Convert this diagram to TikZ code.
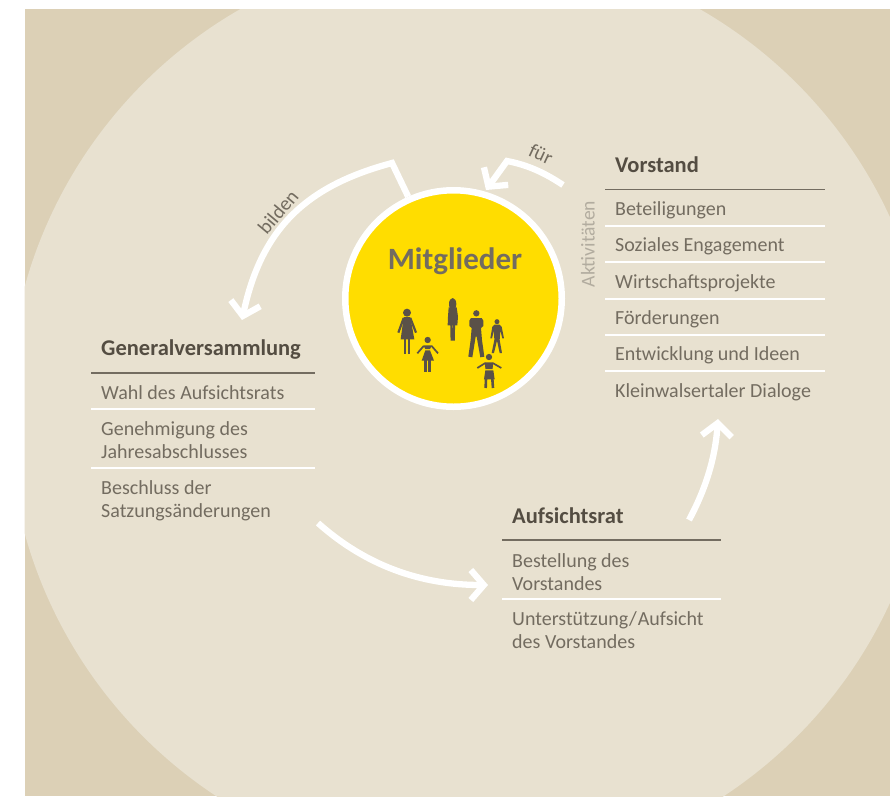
\documentclass[tikz,border=0pt]{standalone}
\usepackage{fontspec}
\setmainfont{Carlito}
\usetikzlibrary{arrows.meta}
\definecolor{tan}{HTML}{DCD0B6}
\definecolor{inner}{HTML}{E8E1D0}
\definecolor{gold}{HTML}{FFDD00}
\definecolor{dark}{HTML}{544D42}
\definecolor{body}{HTML}{736C60}
\definecolor{pale}{HTML}{B2AC9F}
\definecolor{person}{HTML}{5A5148}
\tikzset{
  title/.style={anchor=base west,inner sep=0pt,text=dark,font=\fontsize{22.5}{25}\selectfont\bfseries},
  item/.style={anchor=base west,inner sep=0pt,text=body,align=left,font=\fontsize{20}{23}\selectfont},
  rulehead/.style={draw=body,line width=1.2pt},
  rulewhite/.style={draw=white,line width=2pt},
  flow/.style={draw=white,line width=6.3pt,miter limit=10,-{Straight Barb[length=13pt,width=30pt,line width=6.3pt,sharp]}},
  note/.style={inner sep=0pt,text=body,font=\fontsize{20}{23}\selectfont},
  fig/.style={fill=person,draw=none},
  limb/.style={draw=person,line cap=butt}
}
\begin{document}
\begin{tikzpicture}[x=1pt,y=-1pt]
\useasboundingbox (0,0) rectangle (890,796);
\begin{scope}
  \clip (24.5,9) rectangle (890,796);
  \fill[tan] (24.5,9) rectangle (890,796);
  \fill[inner] (470,410) circle[radius=462pt];
\end{scope}

% centre
\node[circle,fill=gold,draw=white,line width=6.5pt,minimum size=216.5pt,inner sep=0pt] (m) at (453.5,298.5) {};
\node[inner sep=0pt,text=body,font=\fontsize{31}{35}\selectfont\bfseries] (mt) at (455,261) {Mitglieder};

% people
\begin{scope}[shift={(380,290)},x=0.3333pt,y=-0.3333pt]
  % woman left
  \fill[fig] (81,68) circle[radius=12];
  \fill[fig] (71,81)--(91,81)--(103,148)--(62,148)--cycle;
  \draw[limb,line width=2.2pt] (71,84)--(55,128) (91,84)--(108,128);
  \draw[limb,line width=2.8pt] (75,146)--(75,191) (87,146)--(87,191);
  % girl
  \fill[fig] (143,150) circle[radius=9.5];
  \fill[fig] (130,166)--(156,166)--(150,177)--(136,177)--cycle;
  \fill[fig] (136,181)--(150,181)--(162,212)--(125,212)--cycle;
  \draw[limb,line width=1.7pt] (131,168)--(112,190) (155,168)--(174,190);
  \draw[limb,line width=2.6pt] (137,210)--(137,245) (149,210)--(149,245);
  % standing woman
  \fill[fig] (218,42) ellipse[x radius=11,y radius=18];
  \fill[fig] (206,52)--(230,52)--(234,80)--(232,106)--(203,106)--(204,80)--cycle;
  \draw[limb,line width=2.2pt] (214,104)--(215,152) (222,104)--(221,152);
  % man
  \fill[fig] (289,70) circle[radius=9.5];
  \fill[fig] (273,84)--(305,84)--(310,92)--(310,108)--(303,114)--(306,150)--(313,200)--(301,202)--(290,140)--(287,140)--(277,202)--(265,200)--(272,150)--(275,114)--(268,108)--(268,92)--cycle;
  % boy
  \fill[fig] (351,95) circle[radius=7.5];
  \fill[fig] (343,104)--(359,104)--(365,110)--(372,145)--(367,145)--(361,122)--(359,150)--(366,189)--(359,189)--(351,152)--(342,189)--(335,189)--(343,150)--(342,122)--(336,145)--(331,145)--(337,110)--cycle;
  % child front
  \fill[fig] (327,201) circle[radius=9.5];
  \fill[fig] (315,217)--(339,217)--(338,237)--(316,237)--cycle;
  \fill[fig] (316,241)--(340,241)--(344,268)--(312,268)--cycle;
  \draw[limb,line width=1.7pt] (316,219)--(292,234) (338,219)--(364,234);
  \draw[limb,line width=2.6pt] (318,266)--(317,294) (337,266)--(339,294);
\end{scope}

% Vorstand
\node[title] (vt) at (615,172) {Vorstand};
\draw[rulehead] (605,189.5) -- (825,189.5);
\node[item] (v1) at (615,215) {Beteiligungen};
\node[item] (v2) at (615,251.5) {Soziales Engagement};
\node[item] (v3) at (615,288) {Wirtschaftsprojekte};
\node[item] (v4) at (615,324) {Förderungen};
\node[item] (v5) at (615,360.5) {Entwicklung und Ideen};
\node[item] (v6) at (615,397) {Kleinwalsertaler Dialoge};
\foreach \yy in {226,262,298.5,335,371} \draw[rulewhite] (605,\yy) -- (825,\yy);
\node[inner sep=0pt,text=pale,rotate=90,font=\fontsize{19.6}{23}\selectfont] (akt) at (588,244) {Aktivitäten};

% Generalversammlung
\node[title] (gt) at (101,355) {Generalversammlung};
\draw[rulehead] (91,373) -- (315,373);
\node[item] (g1) at (101,399) {Wahl des Aufsichtsrats};
\draw[rulewhite] (91,409) -- (315,409);
\node[item] (g2) at (101,458) {Genehmigung des\\Jahresabschlusses};
\draw[rulewhite] (91,468) -- (315,468);
\node[item] (g3) at (101,517) {Beschluss der\\Satzungsänderungen};

% Aufsichtsrat
\node[title] (at) at (512,523) {Aufsichtsrat};
\draw[rulehead] (502,540) -- (721,540);
\node[item] (a1) at (512,590) {Bestellung des\\Vorstandes};
\draw[rulewhite] (502,599) -- (721,599);
\node[item] (a2) at (512,648) {Unterstützung{\kern1pt}/{\kern1pt}Aufsicht\\des Vorstandes};

% connectors
\coordinate (b0) at (392,163);
\coordinate (b1) at (242,320);
\draw[flow] (m.114) -- (b0) .. controls (310,185) and (262,225) .. (b1);
\coordinate (f0) at (563,185);
\coordinate (f1) at (507,161);
\coordinate (f2) at (486,190);
\draw[flow] (f0) .. controls (545,173) and (528,165) .. (f1) -- (f2);
\coordinate (g0) at (318,523);
\coordinate (g9) at (488,585);
\draw[flow] (g0) .. controls (365,565) and (420,585) .. (g9);
\coordinate (r0) at (689,520);
\coordinate (r9) at (718,419);
\draw[flow] (r0) .. controls (705,490) and (715,460) .. (r9);

\node[note,rotate=50] (bil) at (278,212) {bilden};
\node[note,rotate=-25] (fur) at (541,154) {für};
\end{tikzpicture}
\end{document}
